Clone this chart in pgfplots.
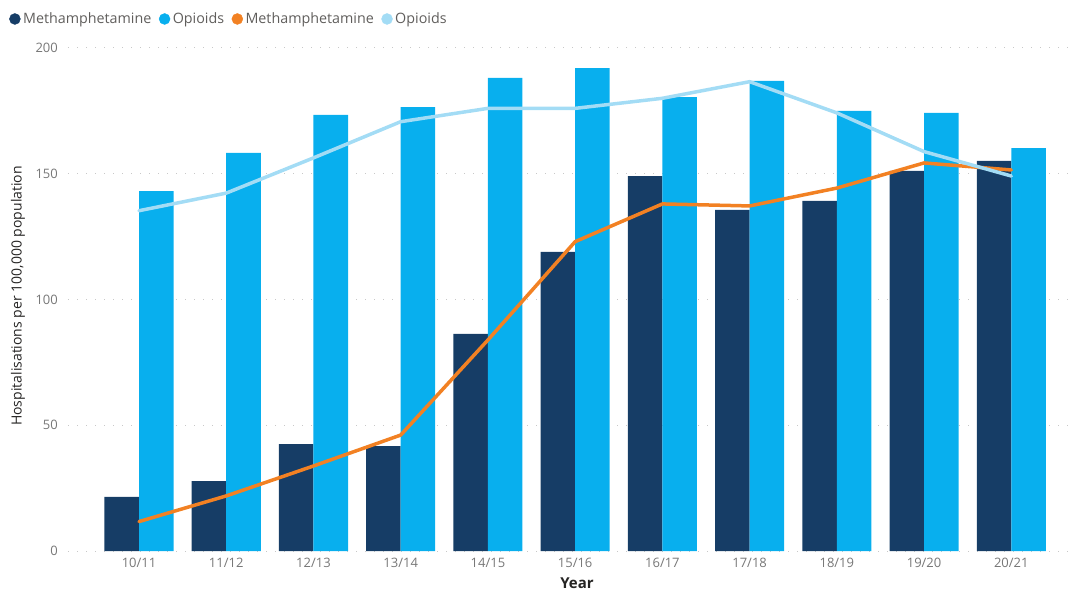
\documentclass[border=0pt]{standalone}
\usepackage{fontspec}
\setmainfont{Open Sans}
\usepackage{pgfplots}
\pgfplotsset{compat=1.18}
\definecolor{meth}{HTML}{163D66}
\definecolor{opi}{HTML}{08AFEE}
\definecolor{methline}{HTML}{F28123}
\definecolor{opiline}{HTML}{A3DCF5}
\definecolor{tickgray}{HTML}{777777}
\definecolor{legtext}{HTML}{605E5C}
\definecolor{titletext}{HTML}{252423}
\definecolor{gridgray}{HTML}{C8C8C8}
\begin{document}
\begin{tikzpicture}[x=1pt,y=1pt]
\clip (0,0) rectangle (1071,592);
\begin{axis}[
  at={(68pt,41pt)}, anchor=south west,
  scale only axis, width=1000pt, height=503pt,
  xmin=-0.814, xmax=10.65, ymin=0, ymax=200,
  axis line style={draw=none},
  major tick length=0pt, tick style={draw=none},
  ytick={0,50,100,150,200},
  xtick={0,1,2,3,4,5,6,7,8,9,10},
  xticklabels={10/11,11/12,12/13,13/14,14/15,15/16,16/17,17/18,18/19,19/20,20/21},
  ymajorgrids,
  grid style={gridgray, line width=1pt, dash pattern=on 1pt off 8pt},
  xticklabel style={font=\fontsize{13}{15}\selectfont, text=tickgray, inner sep=0pt, anchor=north, yshift=-7pt},
  yticklabel style={font=\fontsize{13}{15}\selectfont, text=tickgray, inner sep=0pt, anchor=east, xshift=-10pt},
  /pgf/number format/assume math mode=true,
  ylabel={Hospitalisations per 100,000 population},
  ylabel style={at={(axis description cs:-0.05,0.507)}, anchor=center, font=\fontsize{14}{16}\selectfont, text=titletext, inner sep=0pt},
  xlabel={\textbf{Year}},
  xlabel style={at={(axis description cs:0.509,0)}, anchor=north, yshift=-27pt, font=\fontsize{15}{17}\selectfont, text=titletext, inner sep=0pt},
  legend columns=4,
  legend style={at={(axis description cs:-0.059,1.0577)}, anchor=west, draw=none, fill=none, inner sep=0pt,
    font=\fontsize{14.3}{17}\selectfont, text=legtext,
    nodes={inner sep=2.5pt},
    /tikz/every odd column/.style={column sep=0pt},
    /tikz/every even column/.style={column sep=5pt}},
  clip=false,
]
% bars
\addplot[ybar, fill=meth, draw=none, bar width=0.396, bar shift=-0.198, forget plot] coordinates {
(0,21.5) (1,27.8) (2,42.5) (3,41.7) (4,86.3) (5,118.9) (6,149.1) (7,135.6) (8,139.2) (9,151.1) (10,155.1)};
\addplot[ybar, fill=opi, draw=none, bar width=0.396, bar shift=0.198, forget plot] coordinates {
(0,143.1) (1,158.3) (2,173.4) (3,176.5) (4,188.1) (5,192.0) (6,180.5) (7,186.9) (8,175.0) (9,174.2) (10,160.2)};
% lines
\addplot[methline, line width=3.5pt, line join=round, line cap=round, mark=none, forget plot] coordinates {
(0,11.7) (1,21.9) (2,33.8) (3,46.1) (4,83.9) (5,123.0) (6,138.0) (7,137.2) (8,144.3) (9,154.3) (10,151.5)};
\addplot[opiline, line width=3.5pt, line join=round, line cap=round, mark=none, forget plot] coordinates {
(0,135.3) (1,142.3) (2,156.3) (3,170.7) (4,176.0) (5,176.0) (6,180.0) (7,186.6) (8,174.2) (9,158.8) (10,149.1)};
% legend
\addlegendimage{legend image code/.code={\fill[meth] (5.5pt,0pt) circle (5.5pt);}}
\addlegendentry{Methamphetamine}
\addlegendimage{legend image code/.code={\fill[opi] (5.5pt,0pt) circle (5.5pt);}}
\addlegendentry{Opioids}
\addlegendimage{legend image code/.code={\fill[methline] (5.5pt,0pt) circle (5.5pt);}}
\addlegendentry{Methamphetamine}
\addlegendimage{legend image code/.code={\fill[opiline] (5.5pt,0pt) circle (5.5pt);}}
\addlegendentry{Opioids}
\end{axis}
\end{tikzpicture}
\end{document}
